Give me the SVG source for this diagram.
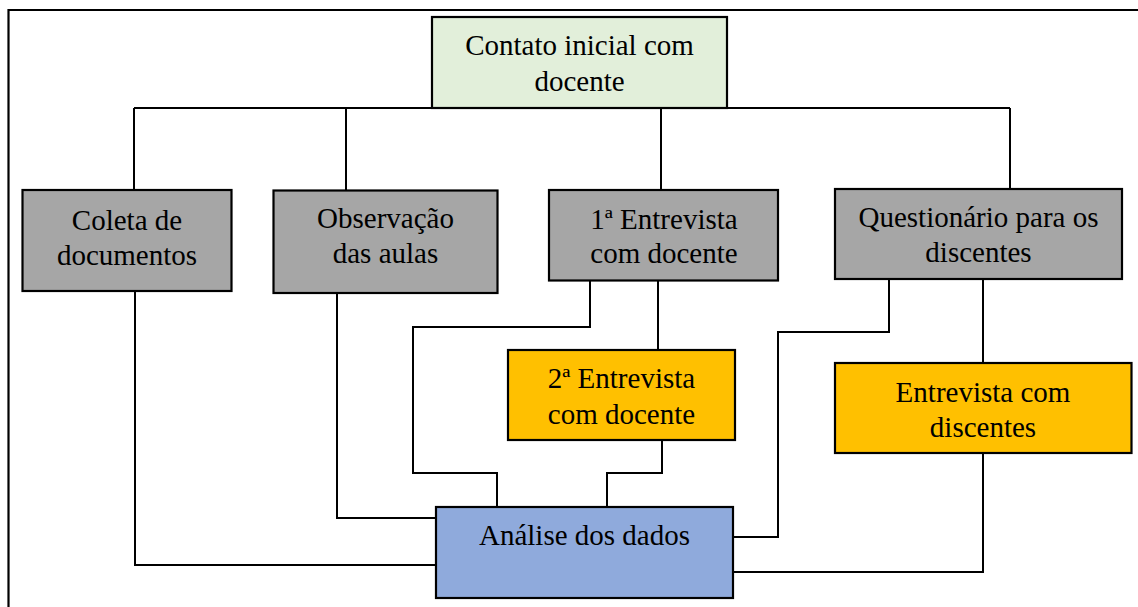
<svg xmlns="http://www.w3.org/2000/svg" width="1138" height="607" viewBox="0 0 1138 607">
<style>
.box{stroke:#000;stroke-width:2.2}
.grey{fill:#a6a6a6}
.green{fill:#e2efda}
.orange{fill:#ffc000}
.blue{fill:#8faadc}
.t{font-family:"Liberation Serif","Times New Roman",serif;font-size:29px;fill:#000;text-anchor:middle}
.c{fill:none;stroke:#000;stroke-width:2}
</style>
<rect x="0" y="0" width="1138" height="607" fill="#fff"/>
<path d="M8.5,607 V10 H1138" fill="none" stroke="#000" stroke-width="2.2"/>
<g id="connectors">
<path class="c" d="M134,108 H1010"/>
<path class="c" d="M134,108 V190"/>
<path class="c" d="M346,108 V190"/>
<path class="c" d="M661,108 V190"/>
<path class="c" d="M1010,108 V189"/>
<path class="c" d="M135,291 V565 H436"/>
<path class="c" d="M337,293 V518 H436"/>
<path class="c" d="M590,281 V327 H413 V473 H497 V507"/>
<path class="c" d="M658,281 V350"/>
<path class="c" d="M662,440 V473 H607 V507"/>
<path class="c" d="M889,279 V332 H778 V537 H733"/>
<path class="c" d="M983,279 V363"/>
<path class="c" d="M983,453 V572 H733"/>
</g>
<g id="contato">
<rect class="box green" x="432" y="17" width="295" height="91"/>
<text class="t" x="579.5" y="55">Contato inicial com</text>
<text class="t" x="579.5" y="91">docente</text>
</g>
<g id="coleta">
<rect class="box grey" x="22.5" y="190" width="209" height="101"/>
<text class="t" x="127" y="230">Coleta de</text>
<text class="t" x="127" y="265">documentos</text>
</g>
<g id="observacao">
<rect class="box grey" x="273.5" y="190.5" width="224" height="102.5"/>
<text class="t" x="385.5" y="228">Observação</text>
<text class="t" x="385.5" y="263">das aulas</text>
</g>
<g id="entrevista1">
<rect class="box grey" x="549" y="190" width="229" height="90.5"/>
<text class="t" x="664" y="229">1ª Entrevista</text>
<text class="t" x="664" y="263">com docente</text>
</g>
<g id="questionario">
<rect class="box grey" x="835" y="189" width="287" height="90"/>
<text class="t" x="978.5" y="227">Questionário para os</text>
<text class="t" x="978.5" y="262">discentes</text>
</g>
<g id="entrevista2">
<rect class="box orange" x="508" y="350" width="227" height="90"/>
<text class="t" x="621.5" y="388">2ª Entrevista</text>
<text class="t" x="621.5" y="424">com docente</text>
</g>
<g id="entrevistaDiscentes">
<rect class="box orange" x="835" y="363" width="296.5" height="90"/>
<text class="t" x="983" y="402">Entrevista com</text>
<text class="t" x="983" y="437">discentes</text>
</g>
<g id="analise">
<rect class="box blue" x="436" y="507" width="297" height="91"/>
<text class="t" x="584.5" y="545">Análise dos dados</text>
</g>
</svg>
